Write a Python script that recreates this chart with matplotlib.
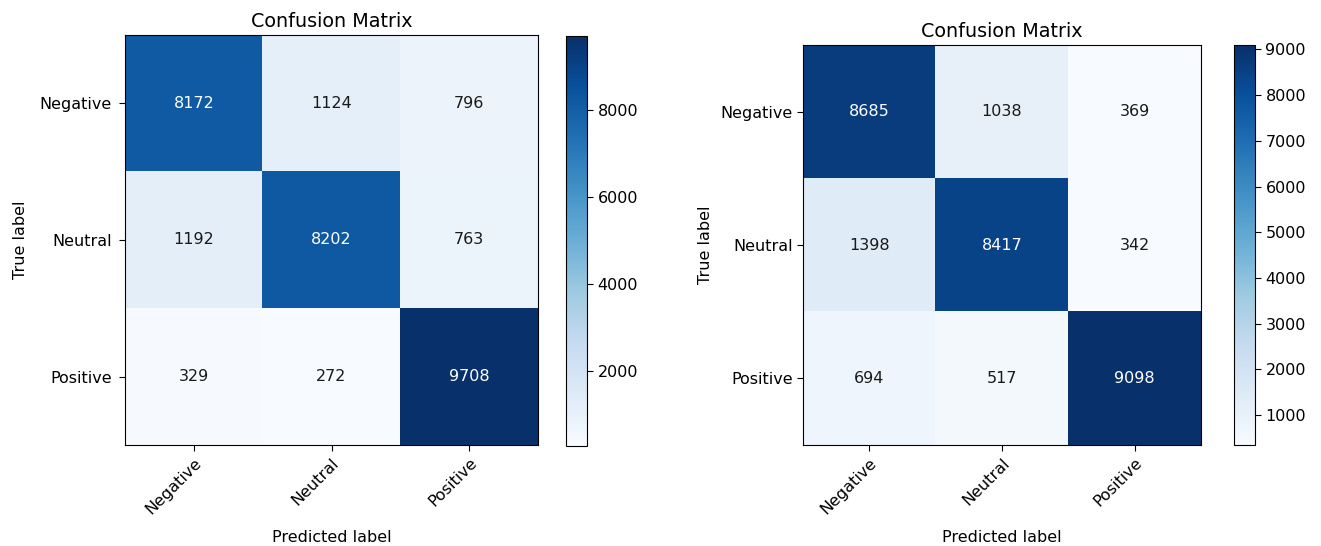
import numpy as np
import matplotlib
matplotlib.use("Agg")
import matplotlib.pyplot as plt

classes = ["Negative", "Neutral", "Positive"]

cm_left = np.array([
    [8172, 1124, 796],
    [1192, 8202, 763],
    [329, 272, 9708],
])

cm_right = np.array([
    [8685, 1038, 369],
    [1398, 8417, 342],
    [694, 517, 9098],
])

W, H = 1321, 546
fig = plt.figure(figsize=(W / 100, H / 100), dpi=100)
FS = 11.5


def px_rect(x0, y0, x1, y1):
    return [x0 / W, 1 - y1 / H, (x1 - x0) / W, (y1 - y0) / H]


def draw_cm(cm, ax_rect, cb_rect, cb_ticks, ytick_pad, ylabel_pad):
    ax = fig.add_axes(px_rect(*ax_rect))
    cax = fig.add_axes(px_rect(*cb_rect))
    im = ax.imshow(cm, interpolation="nearest", cmap=plt.cm.Blues, aspect="auto")
    ax.set_title("Confusion Matrix", fontsize=13.8, pad=6)
    cb = fig.colorbar(im, cax=cax)
    cb.set_ticks(cb_ticks)
    cax.tick_params(labelsize=FS, length=4)
    ticks = np.arange(len(classes))
    ax.set_xticks(ticks)
    ax.set_xticklabels(classes, rotation=45, ha="right", rotation_mode="anchor")
    ax.set_yticks(ticks)
    ax.set_yticklabels(classes)
    ax.tick_params(labelsize=FS, length=4)
    ax.tick_params(axis="y", pad=ytick_pad)
    thresh = cm.max() / 2.0
    for i in range(cm.shape[0]):
        for j in range(cm.shape[1]):
            ax.text(j, i, format(cm[i, j], "d"), ha="center", va="center",
                    color="white" if cm[i, j] > thresh else "#1a1a1a", fontsize=FS)
    ax.set_ylabel("True label", fontsize=FS, labelpad=ylabel_pad)
    ax.set_xlabel("Predicted label", fontsize=FS, labelpad=9)
    return ax


draw_cm(cm_left, (125, 35, 538, 445), (566, 36, 587, 446),
        [2000, 4000, 6000, 8000], ytick_pad=5.5, ylabel_pad=8)
draw_cm(cm_right, (803, 45, 1201, 445), (1234, 45, 1255, 445),
        list(range(1000, 10000, 1000)), ytick_pad=3.5, ylabel_pad=5)

fig.savefig("out.png", dpi=100)
